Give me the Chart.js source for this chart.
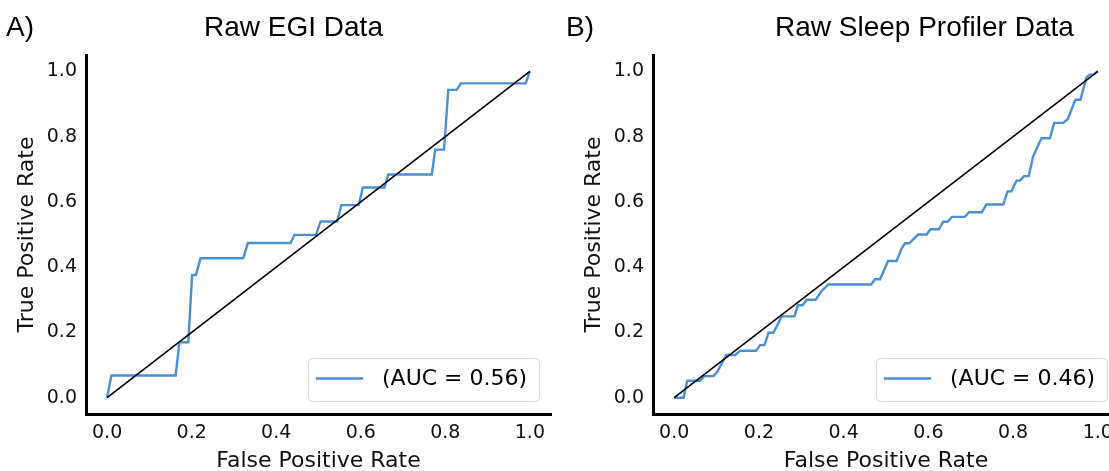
<!DOCTYPE html>
<html>
<head>
<meta charset="utf-8">
<script src="https://cdn.jsdelivr.net/npm/chart.js@4/dist/chart.umd.min.js"></script>
<style>
  html, body { margin: 0; padding: 0; width: 1109px; height: 471px; overflow: hidden; background: #fff; }
  #wrap { position: relative; width: 1109px; height: 471px; overflow: hidden; }
  canvas { position: absolute; top: 0; }
  .ttl { position: absolute; top: 13px; font-family: "Liberation Sans", Arial, sans-serif; font-size: 28px; line-height: 28px; color: #000; white-space: nowrap; }
</style>
</head>
<body>
<div id="wrap">
  <canvas id="c1" width="560" height="471" style="left:0px"></canvas>
  <canvas id="c2" width="600" height="471" style="left:560px"></canvas>
  <div class="ttl" style="left:6px">A)</div>
  <div class="ttl" style="left:204px">Raw EGI Data</div>
  <div class="ttl" style="left:566px">B)</div>
  <div class="ttl" style="left:775px">Raw Sleep Profiler Data</div>
</div>
<script>
// ---- data ----
const egiFpr = [0, 0.010, 0.162, 0.171, 0.192, 0.201, 0.210, 0.221, 0.322, 0.333, 0.434, 0.443, 0.494, 0.505, 0.544, 0.554, 0.595, 0.605, 0.656, 0.665, 0.768, 0.776, 0.797, 0.807, 0.827, 0.837, 0.990, 1.0];
const egiTpr = [0, 0.068, 0.068, 0.170, 0.170, 0.376, 0.376, 0.427, 0.427, 0.474, 0.474, 0.499, 0.499, 0.540, 0.540, 0.590, 0.590, 0.644, 0.644, 0.684, 0.684, 0.760, 0.760, 0.943, 0.943, 0.963, 0.963, 1.0];
const spFpr = [0, 0.022, 0.031, 0.061, 0.071, 0.093, 0.102, 0.123, 0.144, 0.156, 0.193, 0.203, 0.213, 0.223, 0.234, 0.254, 0.284, 0.292, 0.303, 0.313, 0.334, 0.348, 0.364, 0.465, 0.474, 0.486, 0.505, 0.525, 0.537, 0.545, 0.555, 0.576, 0.596, 0.605, 0.625, 0.635, 0.645, 0.656, 0.686, 0.696, 0.726, 0.737, 0.777, 0.787, 0.796, 0.808, 0.816, 0.826, 0.837, 0.847, 0.863, 0.867, 0.887, 0.897, 0.918, 0.929, 0.947, 0.959, 0.973, 0.980, 0.990, 1.0];
const spTpr = [0, 0, 0.052, 0.052, 0.066, 0.066, 0.080, 0.131, 0.131, 0.144, 0.144, 0.161, 0.161, 0.199, 0.199, 0.249, 0.249, 0.283, 0.283, 0.300, 0.300, 0.327, 0.347, 0.347, 0.363, 0.363, 0.419, 0.419, 0.458, 0.473, 0.473, 0.500, 0.500, 0.516, 0.516, 0.539, 0.539, 0.554, 0.554, 0.568, 0.568, 0.592, 0.592, 0.632, 0.632, 0.665, 0.665, 0.679, 0.679, 0.738, 0.784, 0.795, 0.795, 0.842, 0.842, 0.853, 0.913, 0.913, 0.981, 0.990, 0.990, 1.0];
const chanceX = [0, 1];
const chanceY = [0, 1];
const xTicks = [0.0, 0.2, 0.4, 0.6, 0.8, 1.0];
const yTicks = [0.0, 0.2, 0.4, 0.6, 0.8, 1.0];
const egiLabel = "(AUC = 0.56)";
const spLabel = "(AUC = 0.46)";
const xTitle = "False Positive Rate";
const yTitle = "True Positive Rate";

const BLUE = "rgb(74,144,214)";
const TICK_FONT = { family: "'DejaVu Sans'", size: 19 };
const TITLE_FONT = { family: "'DejaVu Sans'", size: 22, lineHeight: 1 };

const zip = (xs, ys) => xs.map((x, i) => ({ x: x, y: ys[i] }));

const legendBox = {
  id: 'legendBox',
  afterDraw(chart) {
    const ca = chart.chartArea;
    const ctx = chart.ctx;
    const ds = chart.data.datasets[0];
    const w = 231, h = 43;
    const bx = ca.right - 12 - w, by = ca.bottom - 13 - h;
    ctx.save();
    ctx.beginPath();
    ctx.roundRect(bx + 0.5, by + 0.5, w, h, 4);
    ctx.fillStyle = "rgba(255,255,255,0.85)";
    ctx.fill();
    ctx.strokeStyle = "#d6d6d6";
    ctx.lineWidth = 1;
    ctx.stroke();
    ctx.beginPath();
    ctx.moveTo(bx + 8, by + 20.5);
    ctx.lineTo(bx + 55, by + 20.5);
    ctx.strokeStyle = ds.borderColor;
    ctx.lineWidth = ds.borderWidth;
    ctx.stroke();
    ctx.fillStyle = "#000";
    ctx.font = "22px 'DejaVu Sans'";
    ctx.textBaseline = "middle";
    ctx.textAlign = "left";
    ctx.fillText(ds.label, bx + 74, by + 21);
    ctx.restore();
  }
};

function makeChart(id, fpr, tpr, label, yWidth, padRight, yTitlePad) {
  return new Chart(document.getElementById(id), {
    type: 'line',
    data: {
      datasets: [
        { label: label, data: zip(fpr, tpr), borderColor: BLUE, borderWidth: 2.4, pointRadius: 0, tension: 0, order: 1, fill: false },
        { label: 'chance', data: zip(chanceX, chanceY), borderColor: '#000', borderWidth: 1.6, pointRadius: 0, tension: 0, order: 0, fill: false }
      ]
    },
    options: {
      responsive: false,
      animation: false,
      layout: { padding: { top: 55, right: padRight, left: 0, bottom: 0 } },
      plugins: { legend: { display: false }, tooltip: { enabled: false } },
      scales: {
        x: {
          type: 'linear', min: -0.05, max: 1.05,
          grid: { display: false, drawTicks: false },
          border: { display: true, color: '#000', width: 3 },
          afterBuildTicks: s => { s.ticks = xTicks.map(v => ({ value: v })); },
          afterFit: s => { s.height = 57; },
          ticks: { font: TICK_FONT, color: '#111', padding: 8, maxRotation: 0, autoSkip: false, callback: v => Number(v).toFixed(1) },
          title: { display: true, text: xTitle, font: TITLE_FONT, color: '#111', padding: { top: 0, bottom: -1 } }
        },
        y: {
          type: 'linear', min: -0.05, max: 1.05,
          grid: { display: false, drawTicks: false },
          border: { display: true, color: '#000', width: 3 },
          afterBuildTicks: s => { s.ticks = yTicks.map(v => ({ value: v })); },
          afterFit: s => { s.width = yWidth; },
          ticks: { font: TICK_FONT, color: '#111', padding: 9, autoSkip: false, callback: v => Number(v).toFixed(1) },
          title: { display: true, text: yTitle, font: TITLE_FONT, color: '#111', padding: { top: yTitlePad, bottom: 0 } }
        }
      }
    },
    plugins: [legendBox]
  });
}

makeChart('c1', egiFpr, egiTpr, egiLabel, 86, 9, 16);
makeChart('c2', spFpr, spTpr, spLabel, 93, 41, 23);
</script>
</body>
</html>
